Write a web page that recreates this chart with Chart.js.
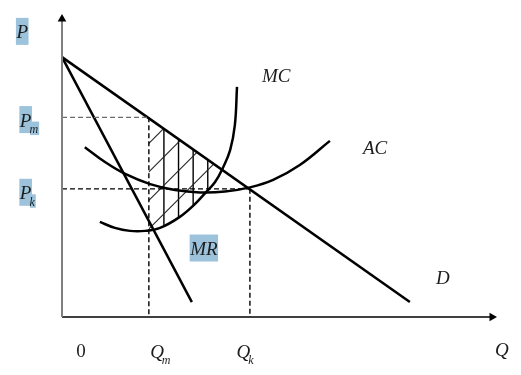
<!DOCTYPE html>
<html>
<head>
<meta charset="utf-8">
<script src="https://cdn.jsdelivr.net/npm/chart.js@4"></script>
<style>
  body { margin: 0; background: #fff; }
  canvas { display: block; }
</style>
</head>
<body>
<canvas id="chart" width="521" height="375"></canvas>
<script>
// demand and marginal revenue (straight lines)
const qD = [0, 80.9];
const pD = [87.2, 5.0];
const qMR = [0, 30.2];
const pMR = [87.2, 5.0];

// marginal cost and average cost curves
const qMC = [8.8, 12.3, 15.8, 19.3, 22.8, 27.4, 30.9, 33.3, 35.6, 37.4, 39.1, 40.2, 40.7];
const pMC = [31.9, 29.9, 28.9, 28.9, 29.9, 33.6, 37.9, 41.6, 45.3, 50.0, 56.0, 64.4, 77.2];
const qAC = [5.3, 10.0, 14.7, 20.5, 26.3, 32.1, 37.9, 43.7, 49.1, 55.3, 62.3];
const pAC = [57.0, 52.0, 48.0, 44.6, 42.6, 41.8, 42.1, 43.5, 46.0, 51.0, 59.1];

// monopoly and "k" outcomes
const Qm = 20.2, Pm = 67;
const Qk = 43.7, Pk = 43;

// vertical hatch lines in the shaded area
const hatchQ = [23.7, 27.1, 30.5, 33.9];

// text labels: main letter, optional subscript
const labels = [
    { main: 'P', q: -10.6, p: 93.5, box: true },
    { main: 'P', sub: 'm', q: -9.8, p: 63.9, box: true },
    { main: 'P', sub: 'k', q: -9.8, p: 39.5, box: true },
    { main: '0', q: 3.3, p: -13.3, upright: true },
    { main: 'Q', sub: 'm', q: 20.5, p: -13.6 },
    { main: 'Q', sub: 'k', q: 40.6, p: -13.6 },
    { main: 'Q', q: 100.7, p: -13.1 },
    { main: 'D', q: 87.0, p: 11.0 },
    { main: 'MC', q: 46.5, p: 78.8 },
    { main: 'AC', q: 70.0, p: 54.7 },
    { main: 'MR', q: 29.8, p: 20.8, box: true }
];

const BOX = '#9cc3db';
const INK = '#1c1c1c';
const SERIF = '"Liberation Serif", "DejaVu Serif", serif';

function pts(qs, ps) {
    return qs.map((q, i) => ({ x: q, y: ps[i] }));
}

function curve(data, extra) {
    return Object.assign({
        data: data,
        showLine: true,
        borderColor: '#000',
        borderWidth: 2.5,
        pointRadius: 0,
        fill: false,
        clip: false
    }, extra || {});
}

function dashed(data, color) {
    return curve(data, { borderColor: color, borderWidth: 1.4, borderDash: [5, 3] });
}

// index of datasets used by the hatch plugin
const IDX_D = 4, IDX_MC = 6;

const hatchPlugin = {
    id: 'hatch',
    beforeDatasetsDraw(chart) {
        const c = chart.ctx;
        const xs = chart.scales.x;
        const dPts = chart.getDatasetMeta(IDX_D).data;
        const m = chart.getDatasetMeta(IDX_MC).data;
        const yD = x => dPts[0].y + (dPts[1].y - dPts[0].y) * (x - dPts[0].x) / (dPts[1].x - dPts[0].x);
        const xL = xs.getPixelForValue(Qm);
        const xR = m[m.length - 1].x + 5;

        c.save();
        // below demand, right of Qm
        c.beginPath();
        c.moveTo(xL, yD(xL));
        c.lineTo(xR, yD(xR));
        c.lineTo(xR, chart.height);
        c.lineTo(xL, chart.height);
        c.closePath();
        c.clip();
        // above MC
        c.beginPath();
        c.moveTo(m[0].x, m[0].y);
        for (let i = 1; i < m.length; i++) {
            c.bezierCurveTo(m[i - 1].cp2x, m[i - 1].cp2y, m[i].cp1x, m[i].cp1y, m[i].x, m[i].y);
        }
        c.lineTo(m[m.length - 1].x, 0);
        c.lineTo(m[0].x, 0);
        c.closePath();
        c.clip();

        c.strokeStyle = '#000';
        c.lineWidth = 1.4;
        hatchQ.forEach(q => {
            const x = xs.getPixelForValue(q);
            c.beginPath();
            c.moveTo(x, 0);
            c.lineTo(x, chart.height);
            c.stroke();
        });

        c.strokeStyle = '#222';
        c.lineWidth = 1.1;
        const y0 = yD(xL) + 25;
        for (let k = -6; k <= 8; k++) {
            const y = y0 + k * 28.5;
            c.beginPath();
            c.moveTo(xL - 50, y + 50);
            c.lineTo(xL + 250, y - 250);
            c.stroke();
        }
        c.restore();
    }
};

const labelPlugin = {
    id: 'labels',
    afterDatasetsDraw(chart) {
        const c = chart.ctx;
        const xs = chart.scales.x, ys = chart.scales.y;
        c.save();
        c.textBaseline = 'alphabetic';
        c.textAlign = 'left';
        labels.forEach(l => {
            const x = xs.getPixelForValue(l.q);
            const y = ys.getPixelForValue(l.p);
            c.font = (l.upright ? '' : 'italic ') + '19px ' + SERIF;
            const w = c.measureText(l.main).width;
            let sx = x + w - 2, sw = 0;
            if (l.sub) {
                c.font = 'italic 12px ' + SERIF;
                sw = c.measureText(l.sub).width;
            }
            if (l.box) {
                c.fillStyle = BOX;
                c.fillRect(x - 0.5, y - 20.5, w + 1, 27);
                if (l.sub) c.fillRect(sx + 0.5, y - 5, sw + 0.5, 13.5);
            }
            c.fillStyle = INK;
            c.font = (l.upright ? '' : 'italic ') + '19px ' + SERIF;
            c.fillText(l.main, x, y);
            if (l.sub) {
                c.font = 'italic 12px ' + SERIF;
                c.fillText(l.sub, sx, y + 6.5);
            }
        });
        c.restore();
    }
};

new Chart(document.getElementById('chart'), {
    type: 'scatter',
    data: {
        datasets: [
            // axes with arrow heads
            curve(pts([0, 0], [0, 100]), {
                borderColor: '#808080', borderWidth: 2,
                pointRadius: [0, 5], pointStyle: 'triangle',
                pointBackgroundColor: '#000', pointBorderColor: '#000', pointBorderWidth: 0
            }),
            curve(pts([0, 100], [0, 0]), {
                borderWidth: 1.5,
                pointRadius: [0, 5], pointStyle: 'triangle', pointRotation: 90,
                pointBackgroundColor: '#000', pointBorderColor: '#000', pointBorderWidth: 0
            }),
            // guide lines
            dashed(pts([0, Qm], [Pm, Pm]), '#6e6e6e'),
            dashed(pts([Qm, Qm], [Pm, 0]), '#000'),
            // curves
            curve(pts(qD, pD)),
            curve(pts(qMR, pMR)),
            curve(pts(qMC, pMC), { tension: 0.4 }),
            curve(pts(qAC, pAC), { tension: 0.4 }),
            dashed(pts([0, Qk], [Pk, Pk]), '#000'),
            dashed(pts([Qk, Qk], [Pk, 0]), '#000')
        ]
    },
    options: {
        responsive: false,
        devicePixelRatio: 1,
        animation: false,
        layout: { padding: { left: 62, right: 29, top: 19, bottom: 58 } },
        scales: {
            x: { type: 'linear', min: 0, max: 100, display: false },
            y: { type: 'linear', min: 0, max: 100, display: false }
        },
        plugins: {
            legend: { display: false },
            tooltip: { enabled: false }
        }
    },
    plugins: [hatchPlugin, labelPlugin]
});
</script>
</body>
</html>
